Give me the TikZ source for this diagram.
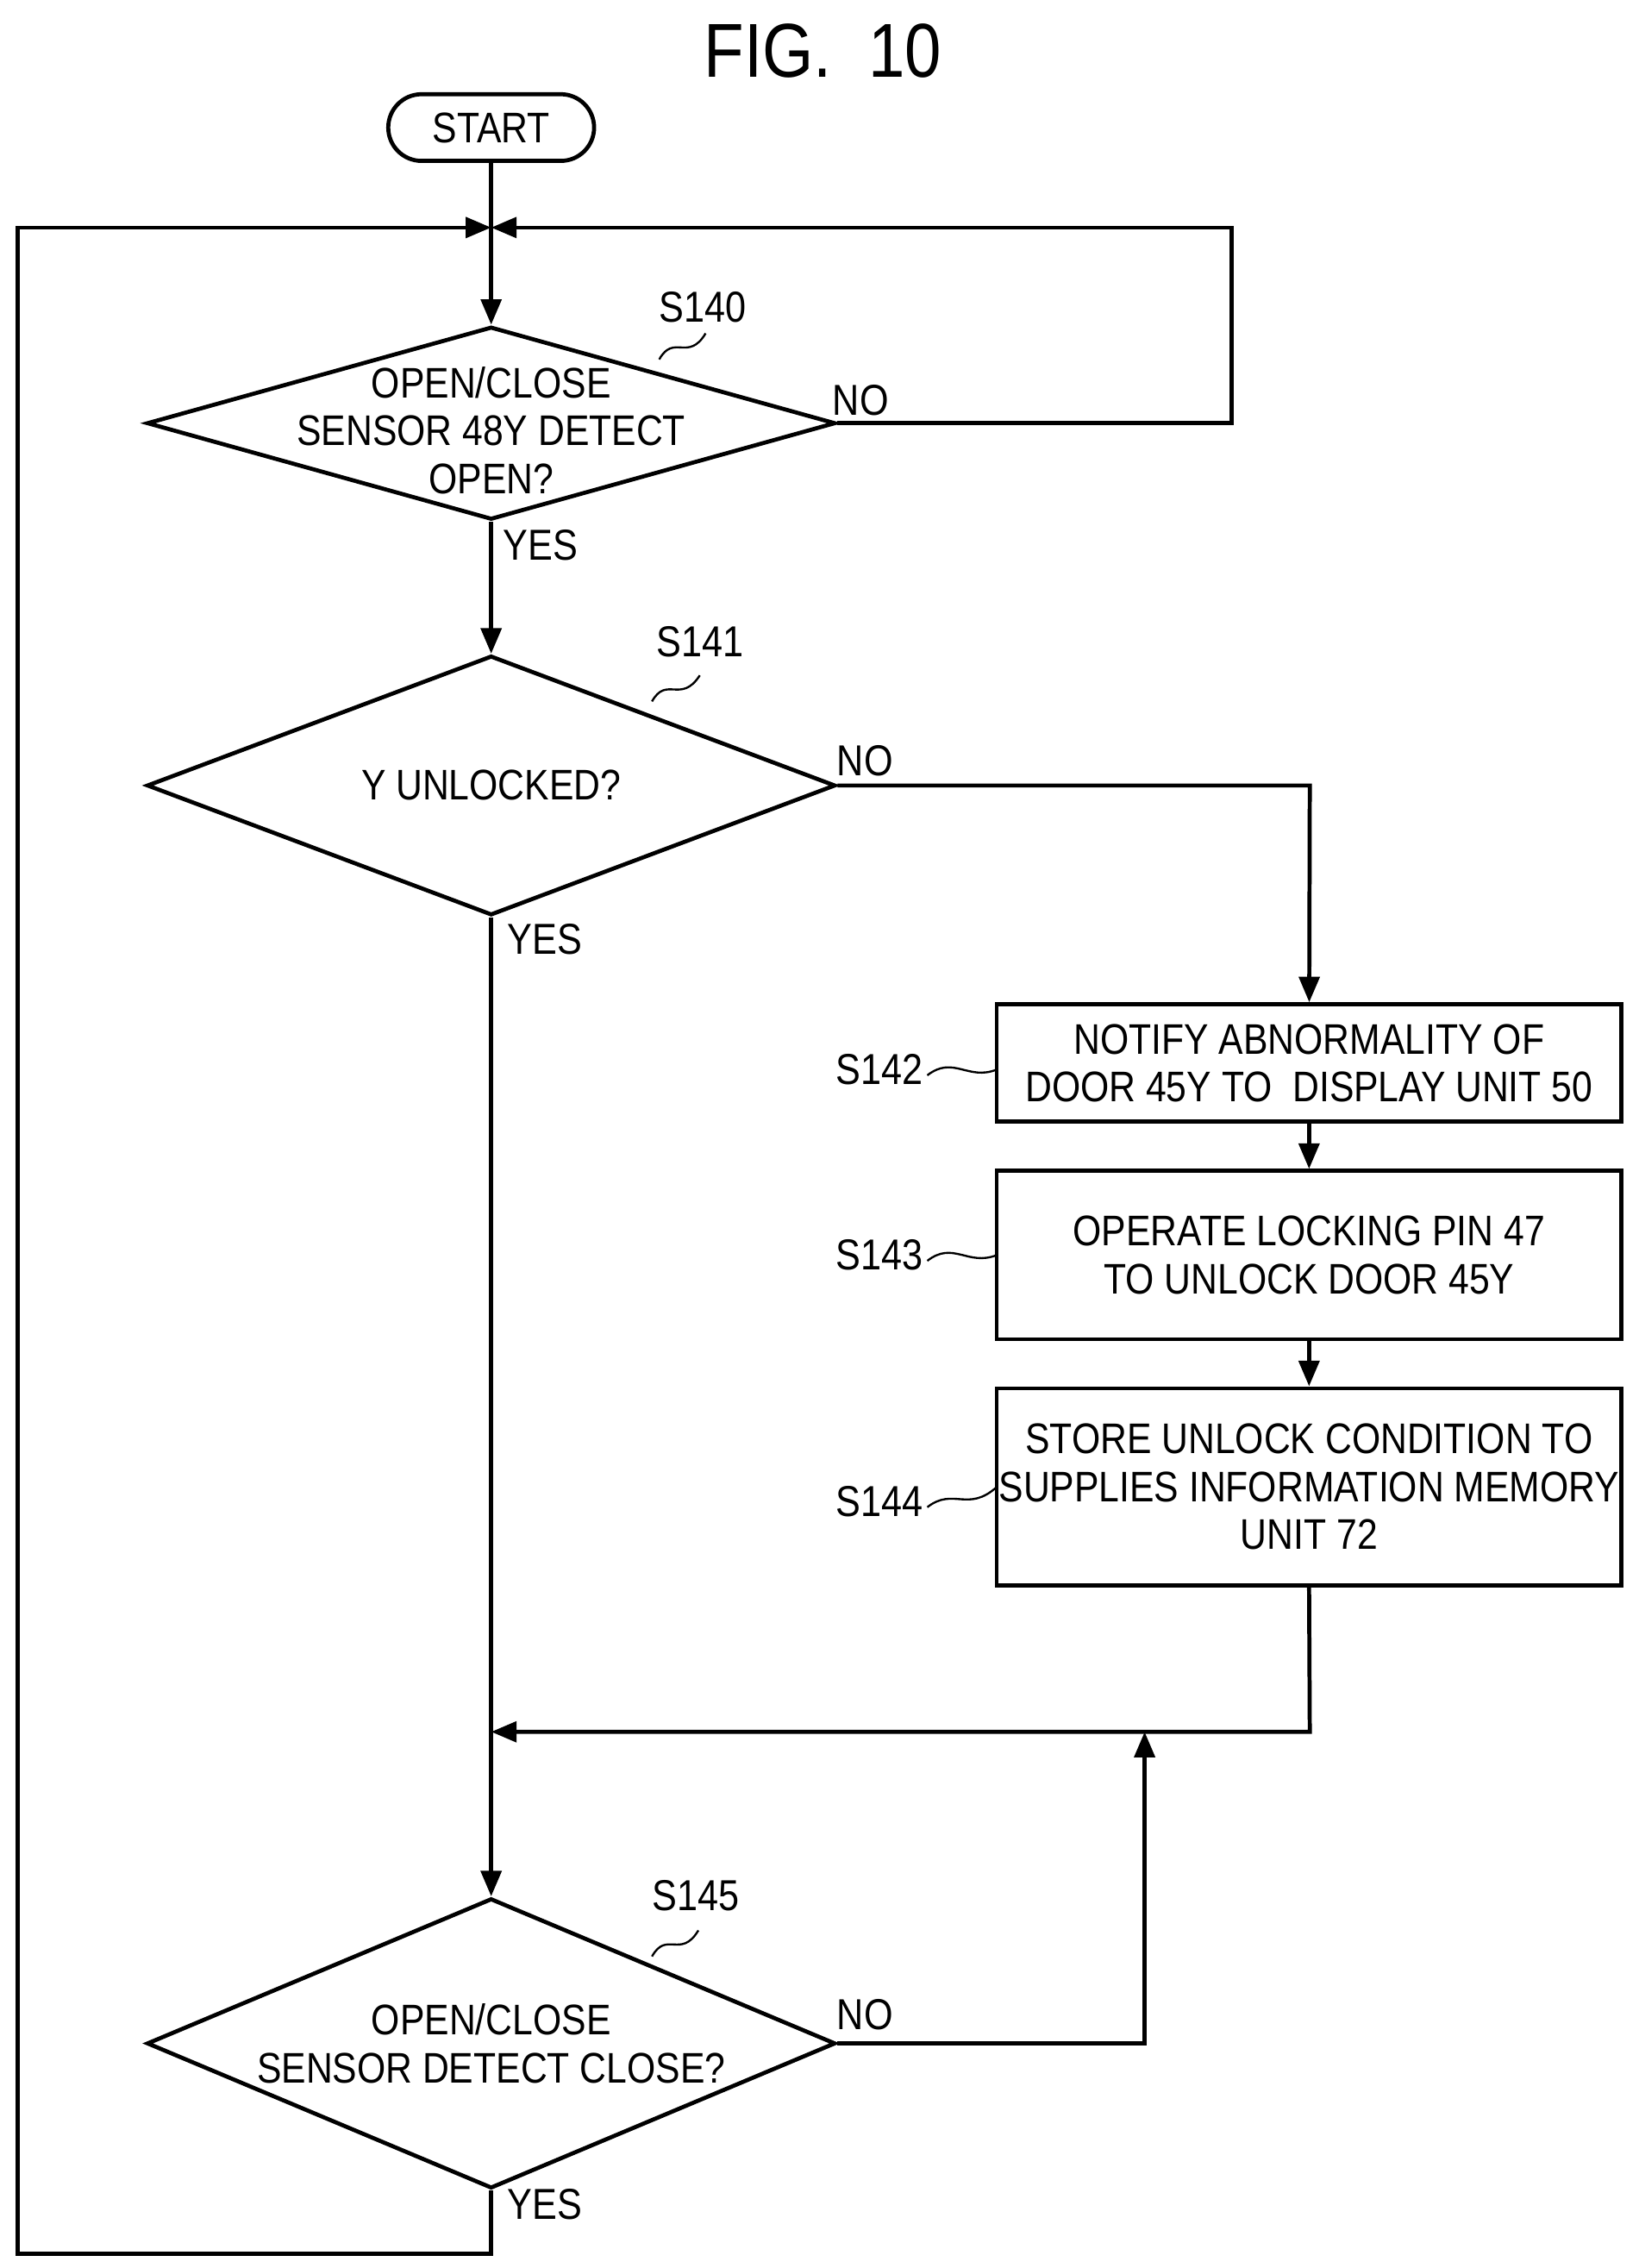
\documentclass[tikz,border=0pt]{standalone}
\usepackage{fontspec}
\setmainfont{Liberation Sans}[FakeStretch=0.86]
\usetikzlibrary{shapes.geometric,arrows.meta}
\tikzset{box/.style={rectangle, draw, thick, minimum width=4.31cm, align=center, inner sep=0pt}}
\tikzset{dec/.style={diamond, draw, thick, minimum width=4.75cm, aspect=3.5, inner sep=0pt}}
\tikzset{term/.style={rectangle, rounded corners=0.23cm, draw, thick, minimum width=1.42cm, minimum height=0.46cm}}
\tikzset{flow/.style={thick, -{Triangle[length=5pt,width=4pt]}}}
\tikzset{tag/.style={font=\fontsize{8.5}{9}\selectfont}}
\begin{document}
\begin{tikzpicture}[x=0.01cm, y=-0.01cm, thick, font=\fontsize{8.4}{9.4}\selectfont]
  \useasboundingbox (0,0) rectangle (1131,1565);

  \node[font=\fontsize{15}{16}\selectfont] (title) at (568,35) {FIG.\ \ 10};
  \node[term] (start) at (339,88) {START};
  \coordinate (join) at (339,157);

  \node[dec, minimum height=1.33cm, label={[align=center, yshift=-0.05cm]center:OPEN/CLOSE\\SENSOR 48Y DETECT\\OPEN?}] (s140) at (339,292) {};
  \node[dec, minimum height=1.79cm, label={center:Y UNLOCKED?}] (s141) at (339,542) {};
  \node[box, minimum height=0.81cm] (s142) at (903.5,733.5) {NOTIFY ABNORMALITY OF\\DOOR 45Y TO\ \ DISPLAY UNIT 50};
  \node[box, minimum height=1.16cm] (s143) at (903.5,866) {OPERATE LOCKING PIN 47\\TO UNLOCK DOOR 45Y};
  \node[box, minimum height=1.36cm] (s144) at (903.5,1026) {STORE UNLOCK CONDITION TO\\SUPPLIES INFORMATION MEMORY\\UNIT 72};
  \node[dec, minimum height=2.0cm, label={[align=center]center:OPEN/CLOSE\\SENSOR DETECT CLOSE?}] (s145) at (339,1410) {};

  \coordinate (merge) at (339,1195);

  % main line
  \draw[flow] (start) -- (s140);
  \draw[flow] (s140) -- (s141);
  \draw[flow] (s141) -- (s145);
  \draw[flow] (s140.east) -- (850,292) -- (850,157) -- (join);
  \draw[flow] (s145.south) -- (339,1555) -- (12,1555) -- (12,157) -- (join);
  \draw[flow] (s141.east) -- (904,542) -- (s142);
  \draw[flow] (s142) -- (s143);
  \draw[flow] (s143) -- (s144);
  \draw[flow] (s144.south) -- (904,1195) -- (merge);
  \draw[flow] (s145.east) -- (790,1410) -- (790,1195);

  % yes / no
  \node[tag] (y140) at (373,376) {YES};
  \node[tag] (n140) at (594,276) {NO};
  \node[tag] (y141) at (376,648) {YES};
  \node[tag] (n141) at (597,525) {NO};
  \node[tag] (y145) at (376,1521) {YES};
  \node[tag] (n145) at (597,1390) {NO};

  % step labels
  \node[tag] (l140) at (485,212) {S140};
  \node[tag] (l141) at (483,443) {S141};
  \node[tag] (l145) at (480,1308) {S145};
  \node[tag] (l142) at (607,738) {S142};
  \node[tag] (l143) at (607,866) {S143};
  \node[tag] (l144) at (607,1036) {S144};
  \draw[thin] (455,248) .. controls (465,230) and (475,250) .. (487,230);
  \draw[thin] (450,484) .. controls (460,466) and (470,486) .. (483,466);
  \draw[thin] (450,1350) .. controls (460,1332) and (470,1352) .. (482,1332);
  \draw[thin] (640,742) .. controls (658,728) and (668,746) .. (688,738);
  \draw[thin] (640,870) .. controls (658,856) and (668,874) .. (688,866);
  \draw[thin] (640,1040) .. controls (658,1026) and (668,1044) .. (688,1026);
\end{tikzpicture}
\end{document}
